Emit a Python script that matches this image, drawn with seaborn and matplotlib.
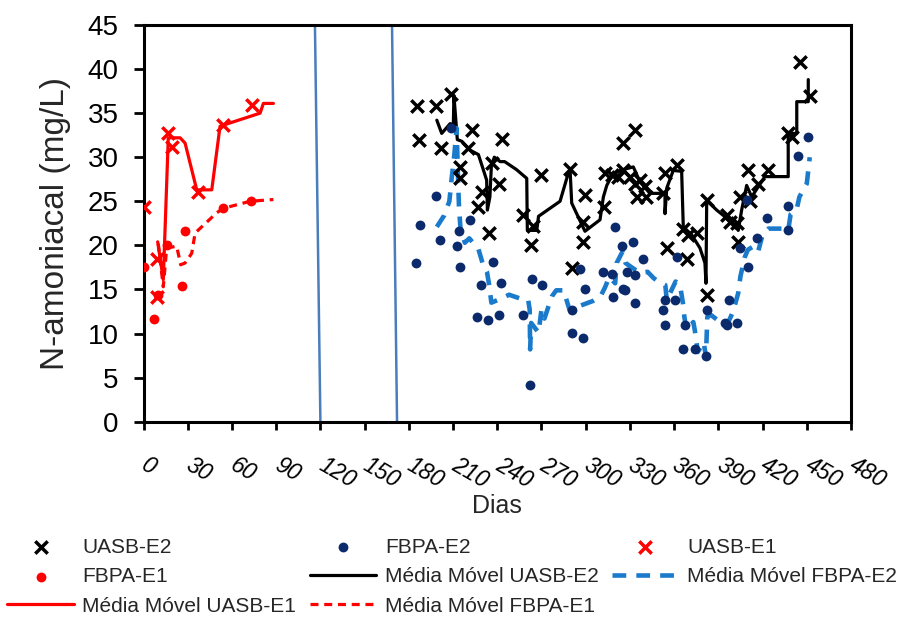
import numpy as np
import pandas as pd
import matplotlib
matplotlib.use("Agg")
import matplotlib.pyplot as plt
import seaborn as sns

# ---------------- data ----------------
uasb_e1_dias = [0.3, 9, 9, 16.8, 19.1, 37.2, 54.1, 73.4]
uasb_e1_vals = [24.4, 18.4, 14.1, 32.7, 31.2, 26.1, 33.7, 35.9]

fbpa_e1_dias = [0.3, 7.1, 10, 16.1, 25.9, 28.2, 54.1, 72.7]
fbpa_e1_vals = [17.6, 11.7, 14.4, 20.0, 15.4, 21.6, 24.2, 25.0]

mm_uasb_e1_dias = [9.6, 13.4, 16.8, 24.8, 28.2, 36.1, 46.3, 51.9, 55.3, 79.1, 81.3, 88.1]
mm_uasb_e1_vals = [20.4, 16.1, 32.2, 32.2, 31.6, 26.3, 26.3, 33.5, 33.7, 35.0, 36.1, 36.1]

mm_fbpa_e1_dias = [10, 13.4, 15.7, 22.5, 25.2, 28.2, 32.7, 35, 49.7, 54.1, 72.3, 88.1]
mm_fbpa_e1_vals = [20.2, 15.3, 19.7, 19.9, 17.8, 18.0, 19.1, 21.4, 23.7, 24.2, 25.0, 25.2]

uasb_e2_dias = [185.3, 187.1, 198.4, 201.6, 208.4, 214.7, 214.7, 220.4, 222.7, 227.2,
                229.4, 234.6, 236.2, 241.4, 243.0, 257.3, 262.7, 264.5, 269.5, 289.4,
                290.5, 298.0, 298.0, 299.5, 312.4, 313.1, 317.6, 322.0, 325.0, 333.4,
                325.5, 330.0, 333.4, 336.8, 340.2, 334.6, 341.0, 352.6, 353.8, 355.0,
                361.7, 366.2, 368.5, 369.6, 375.3, 382.5, 382.5, 395.6, 397.9, 402.4,
                403.5, 404.7, 410.3, 411.5, 417.1, 423.9, 437.4, 439.7, 445.4, 452.2]
uasb_e2_vals = [35.8, 31.9, 35.8, 31.0, 37.2, 28.9, 27.6, 31.0, 33.1, 24.4,
                26.1, 21.4, 29.3, 27.0, 32.1, 23.4, 20.0, 22.2, 28.0, 28.7,
                17.4, 22.7, 20.4, 25.7, 24.4, 28.2, 28.0, 27.8, 31.6, 33.1,
                28.5, 27.8, 27.0, 27.4, 26.7, 25.5, 25.5, 25.9, 28.2, 19.7,
                29.1, 21.9, 18.5, 21.2, 21.4, 25.1, 14.4, 23.4, 22.7, 22.5,
                20.4, 25.5, 28.5, 25.0, 27.0, 28.5, 32.7, 32.3, 40.8, 36.9]

fbpa_e2_dias = [184.9, 187.6, 198.4, 201.2, 208.6, 212.9, 214.3, 214.7, 221.5, 226.5,
                229.0, 233.9, 236.9, 241.4, 242.3, 257.7, 262.2, 263.4, 270.1, 290.5,
                290.5, 296.1, 298.0, 299.5, 311.9, 317.6, 318.7, 319.9, 324.4, 325.5,
                326.9, 327.8, 332.3, 333.4, 333.4, 339.1, 352.6, 353.8, 353.8, 360.6,
                361.7, 366.2, 367.4, 374.1, 381.6, 382.1, 394.5, 395.6, 397.0, 402.4,
                404.7, 409.2, 410.3, 416.0, 422.8, 437.4, 437.4, 443.8, 451.0]
fbpa_e2_vals = [18.0, 22.3, 25.6, 20.6, 33.3, 19.9, 21.6, 17.6, 22.9, 11.9,
                15.5, 11.5, 18.1, 12.1, 15.7, 12.1, 4.2, 16.2, 15.5, 10.1,
                12.7, 17.3, 9.5, 15.1, 17.0, 16.8, 14.2, 22.1, 19.9, 15.1,
                14.9, 17.0, 20.4, 16.6, 13.5, 18.4, 12.7, 13.8, 11.0, 13.8,
                18.7, 8.3, 11.0, 8.3, 7.4, 12.7, 11.2, 11.0, 13.8, 11.2,
                19.7, 25.1, 17.6, 20.8, 23.1, 24.5, 21.7, 30.1, 32.3]

mm_uasb_e2_dias = [199, 202.3, 208, 210.2, 210.6, 212.9, 216, 221.5, 227.2, 230.5,
                   232.8, 233.3, 235, 236, 238, 242, 245, 253, 260, 260.4,
                   266.8, 268, 282.6, 288.2, 289.4, 290.5, 299.5, 309.7, 312, 314.3,
                   318, 323.3, 332.3, 336.8, 343.6, 353.8, 353.8, 355, 359.4, 365.1,
                   366.2, 371.9, 377.5, 380.9, 381.6, 382.1, 388.9, 395.6, 400.1, 403.5,
                   405.8, 409.2, 412.6, 421.6, 437.4, 437.4, 443.2, 443.2, 451, 451]
mm_uasb_e2_vals = [34.2, 32.7, 33.8, 33.7, 37.0, 32.0, 31.8, 30.8, 30.3, 28.6,
                   27.4, 24.0, 25.5, 29.0, 30.0, 29.5, 29.5, 28.6, 27.6, 21.7,
                   21.7, 23.3, 25.0, 28.2, 28.6, 24.8, 21.6, 22.9, 25.5, 26.8,
                   28.0, 28.5, 28.9, 27.2, 25.9, 25.9, 23.6, 26.5, 28.5, 28.4,
                   22.1, 21.2, 19.7, 18.0, 15.7, 25.1, 24.0, 23.1, 22.5, 21.7,
                   24.0, 26.8, 25.5, 27.8, 27.8, 32.7, 32.7, 36.3, 36.3, 38.8]

mm_fbpa_e2_dias = [199, 204, 207.5, 209, 211, 212.4, 213.5, 214, 215, 218,
                   221, 225, 227, 230, 233, 234.5, 236, 243, 248, 255,
                   261, 262, 262.3, 263, 268, 270, 272, 277, 280, 285,
                   289, 297, 305, 310, 313, 316, 320, 321, 325, 327,
                   333, 337, 342, 346, 350, 354, 355, 361, 364, 366,
                   367, 368.5, 373, 374, 375, 376, 380, 381.6, 382.5, 385,
                   392, 396, 400, 403.5, 405, 408, 410, 414, 417, 420,
                   424, 434, 437.4, 439, 443, 445, 450, 451, 452]
mm_fbpa_e2_vals = [22.1, 23.4, 25.0, 27.5, 30.5, 33.3, 27.0, 24.5, 22.0, 20.3,
                   20.8, 20.0, 19.7, 18.0, 17.0, 15.5, 13.5, 14.0, 14.4, 14.0,
                   13.8, 12.7, 8.2, 11.2, 10.1, 12.7, 11.7, 14.2, 14.9, 14.9,
                   12.7, 13.2, 13.7, 14.2, 15.2, 16.4, 15.7, 18.0, 19.3, 18.0,
                   17.3, 16.9, 17.0, 16.3, 15.8, 15.5, 13.8, 15.9, 15.5, 13.4,
                   11.8, 10.4, 11.3, 10.4, 9.3, 7.9, 9.0, 7.4, 11.9, 12.1,
                   11.2, 11.0, 12.5, 14.6, 16.5, 18.7, 19.5, 19.9, 19.3, 21.2,
                   21.9, 21.9, 21.7, 23.5, 24.0, 25.5, 27.0, 28.5, 30.0]

sep_top = [116.3, 168.6]
sep_bottom = [120.0, 172.0]

x_ticks = list(range(0, 481, 30))
y_ticks = list(range(0, 46, 5))

# ---------------- style ----------------
sns.set_theme(style="white")
plt.rcParams["font.family"] = ["Liberation Sans", "DejaVu Sans"]

RED = "#ff0000"
NAVY = "#0b2a6b"
BLUE = "#1a7acb"
SEP = "#4a7ebb"

fig = plt.figure(figsize=(9.23, 6.24), dpi=100)
ax = fig.add_axes([0.1555, 0.3242, 0.7665, 0.6358])

# separators
for t, b in zip(sep_top, sep_bottom):
    ax.plot([t, b], [45, 0], color=SEP, lw=1.8, zorder=1)

# moving averages
sns.lineplot(x=mm_uasb_e2_dias, y=mm_uasb_e2_vals, sort=False, estimator=None,
             color="black", lw=2.3, ax=ax, label="Média Móvel UASB-E2", zorder=3)
sns.lineplot(x=mm_fbpa_e2_dias, y=mm_fbpa_e2_vals, sort=False, estimator=None,
             color=BLUE, lw=3.3, ax=ax, label="Média Móvel FBPA-E2", zorder=3,
             dashes=False)
ax.lines[-1].set_dashes([3.0, 2.2])
sns.lineplot(x=mm_uasb_e1_dias, y=mm_uasb_e1_vals, sort=False, estimator=None,
             color=RED, lw=2.3, ax=ax, label="Média Móvel UASB-E1", zorder=3)
sns.lineplot(x=mm_fbpa_e1_dias, y=mm_fbpa_e1_vals, sort=False, estimator=None,
             color=RED, lw=2.3, ax=ax, label="Média Móvel FBPA-E1", zorder=3)
ax.lines[-1].set_dashes([2.5, 1.8])

# points
sns.scatterplot(x=uasb_e2_dias, y=uasb_e2_vals, marker="x", color="black",
                s=80, linewidth=2.5, ax=ax, label="UASB-E2", zorder=4)
sns.scatterplot(x=fbpa_e2_dias, y=fbpa_e2_vals, marker="o", color=NAVY,
                s=50, linewidth=0, ax=ax, label="FBPA-E2", zorder=4)
sns.scatterplot(x=uasb_e1_dias, y=uasb_e1_vals, marker="x", color=RED,
                s=80, linewidth=2.5, ax=ax, label="UASB-E1", zorder=4)
sns.scatterplot(x=fbpa_e1_dias, y=fbpa_e1_vals, marker="o", color=RED,
                s=50, linewidth=0, ax=ax, label="FBPA-E1", zorder=4)

ax.set_xlim(0, 480)
ax.set_ylim(0, 45)
ax.set_xticks(x_ticks)
ax.set_yticks(y_ticks)
ax.set_yticklabels([str(v) for v in y_ticks], fontsize=20)
ax.set_xticklabels([str(v) for v in x_ticks], fontsize=16.5, style="italic",
                   rotation=-30, ha="left", rotation_mode="anchor", va="center")
for spine in ax.spines.values():
    spine.set_visible(True)
    spine.set_color("black")
    spine.set_linewidth(2.2)
ax.tick_params(axis="y", direction="out", length=7, width=2, pad=11, colors="black",
               left=True)
ax.tick_params(axis="x", direction="out", length=6, width=2, pad=24, colors="black",
               bottom=True)
ax.set_ylabel("N-amoniacal (mg/L)", fontsize=24, labelpad=12)
ax.set_xlabel("Dias", fontsize=18, labelpad=1)

# legend (row-major order)
handles, labels = ax.get_legend_handles_labels()
ax.get_legend().remove()
hmap = dict(zip(labels, handles))
order = ["UASB-E2", "FBPA-E1", "Média Móvel UASB-E1",
         "FBPA-E2", "Média Móvel UASB-E2", "Média Móvel FBPA-E1",
         "UASB-E1", "Média Móvel FBPA-E2"]
fig.legend([hmap[k] for k in order], order, ncol=3, loc="upper left",
           bbox_to_anchor=(0.008, 0.138), frameon=False, fontsize=15,
           handlelength=3.2, handletextpad=0.4, columnspacing=0.65,
           labelspacing=0.5, borderaxespad=0, borderpad=0, markerscale=1.0)

fig.savefig("out.png", dpi=100)
